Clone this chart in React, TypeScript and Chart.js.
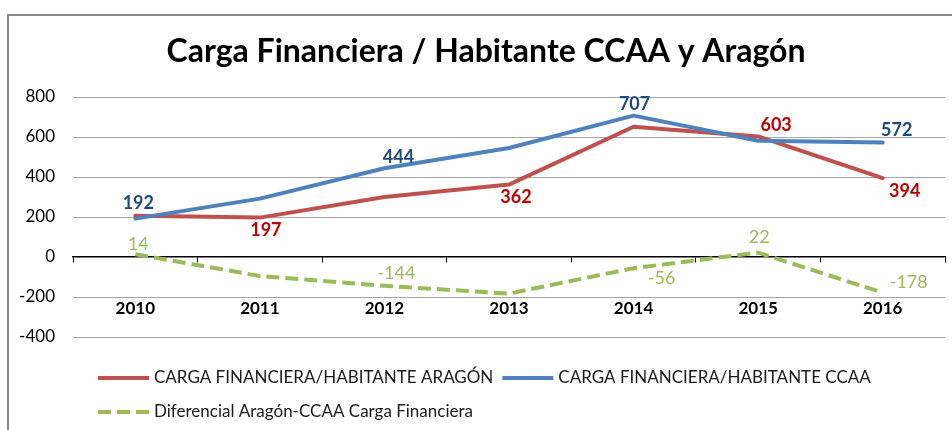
import React, { useEffect, useRef } from "react";
import { Chart, registerables } from "chart.js";

Chart.register(...registerables);

// ---- data ----
const years = ["2010", "2011", "2012", "2013", "2014", "2015", "2016"];
const aragon = [206, 197, 300, 362, 651, 603, 394];
const ccaa = [192, 292, 444, 545, 707, 581, 572];
const diferencial = [14, -95, -144, -183, -56, 22, -178];
const yTicks = [-400, -200, 0, 200, 400, 600, 800];

const titleText = "Carga Financiera / Habitante CCAA y Aragón";
const nameAragon = "CARGA FINANCIERA/HABITANTE ARAGÓN";
const nameCcaa = "CARGA FINANCIERA/HABITANTE CCAA";
const nameDif = "Diferencial Aragón-CCAA Carga Financiera";

// ---- label placement (offsets from the point, null = no label) ----
const offAragon: (number[] | null)[] = [null, [6, 13], null, [7, 13], null, [18, -11], [22, 13]];
const offCcaa: (number[] | null)[] = [[3, -15], null, [14, -11], null, [1, -11], null, [14, -12]];
const offDif: (number[] | null)[] = [[3, -10], null, [12, -13], null, [28, 10], [1, -15], [26, -10]];

const FONT = "Lato, 'Open Sans', 'DejaVu Sans', sans-serif";
const RED = "#C0504D";
const BLUE = "#4F81BD";
const GREEN = "#9BBB59";

const framePlugin = {
  id: "frame",
  beforeDraw(chart: any) {
    const c = chart.ctx;
    c.save();
    c.fillStyle = "#ffffff";
    c.fillRect(0, 0, chart.width, chart.height);
    c.strokeStyle = "#888888";
    c.lineWidth = 2;
    c.beginPath();
    c.moveTo(8, chart.height + 5);
    c.lineTo(8, 15);
    c.lineTo(chart.width + 5, 15);
    c.stroke();
    c.restore();
  },
};

const titlePlugin = {
  id: "customTitle",
  afterDraw(chart: any) {
    const c = chart.ctx;
    c.save();
    c.fillStyle = "#000000";
    c.font = `bold 32px ${FONT}`;
    c.textAlign = "center";
    c.textBaseline = "middle";
    c.fillText(titleText, 486, 52);
    c.restore();
  },
};

const labelsPlugin = {
  id: "pointLabels",
  afterDatasetsDraw(chart: any) {
    const c = chart.ctx;
    chart.data.datasets.forEach((ds: any, i: number) => {
      const meta = chart.getDatasetMeta(i);
      const offs = ds.labelOffsets as (number[] | null)[];
      c.save();
      c.fillStyle = ds.labelColor;
      c.font = `${ds.labelWeight} 18px ${FONT}`;
      c.textAlign = "center";
      c.textBaseline = "middle";
      meta.data.forEach((pt: any, j: number) => {
        const o = offs[j];
        if (!o) return;
        c.fillText(String(ds.data[j]), pt.x + o[0], pt.y + o[1]);
      });
      c.restore();
    });
  },
};

const legendPlugin = {
  id: "customLegend",
  afterDraw(chart: any) {
    const c = chart.ctx;
    const items = [0, 1, 2].map((i) => chart.data.datasets.find((d: any) => d.legendIndex === i));
    const rows = [[items[0], items[1]], [items[2]]];
    const rowY = [378, 412];
    c.save();
    c.font = `17px ${FONT}`;
    c.textBaseline = "middle";
    c.textAlign = "left";
    rows.forEach((row, r) => {
      let x = 98;
      const y = rowY[r];
      row.forEach((ds: any) => {
        c.strokeStyle = ds.borderColor;
        c.lineWidth = 4;
        c.lineCap = "butt";
        c.setLineDash(ds.borderDash && ds.borderDash.length ? [13, 6] : []);
        c.beginPath();
        c.moveTo(x, y);
        c.lineTo(x + 51, y);
        c.stroke();
        c.setLineDash([]);
        x += 56;
        c.fillStyle = "#1a1a1a";
        c.fillText(ds.label, x, y);
        x += c.measureText(ds.label).width + 9;
      });
    });
    c.restore();
  },
};

export default function App() {
  const ref = useRef<HTMLCanvasElement | null>(null);

  useEffect(() => {
    if (!ref.current) return;
    const chart = new Chart(ref.current, {
      type: "line",
      data: {
        labels: years,
        datasets: [
          {
            label: nameAragon,
            data: aragon,
            borderColor: RED,
            backgroundColor: RED,
            borderWidth: 4,
            pointRadius: 0,
            borderCapStyle: "round",
            borderJoinStyle: "round",
            order: 1,
            labelOffsets: offAragon,
            labelColor: "#C00000",
            labelWeight: "bold",
            legendIndex: 0,
          } as any,
          {
            label: nameCcaa,
            data: ccaa,
            borderColor: BLUE,
            backgroundColor: BLUE,
            borderWidth: 4,
            pointRadius: 0,
            borderCapStyle: "round",
            borderJoinStyle: "round",
            order: 0,
            labelOffsets: offCcaa,
            labelColor: "#1F497D",
            labelWeight: "bold",
            legendIndex: 1,
          } as any,
          {
            label: nameDif,
            data: diferencial,
            borderColor: GREEN,
            backgroundColor: GREEN,
            borderWidth: 4,
            borderDash: [13, 6],
            pointRadius: 0,
            borderCapStyle: "butt",
            borderJoinStyle: "round",
            order: 2,
            labelOffsets: offDif,
            labelColor: GREEN,
            labelWeight: "normal",
            legendIndex: 2,
          } as any,
        ],
      },
      options: {
        responsive: false,
        animation: false,
        devicePixelRatio: 1,
        layout: { padding: { top: 97, right: 7, bottom: 93, left: 0 } },
        plugins: {
          legend: { display: false },
          title: { display: false },
          tooltip: { enabled: false },
        },
        scales: {
          x: {
            type: "category",
            position: { y: 0 } as any,
            offset: true,
            grid: {
              offset: true,
              drawOnChartArea: false,
              drawTicks: true,
              tickLength: 5,
              color: "#000000",
              lineWidth: 1,
            },
            border: { display: true, color: "#000000", width: 1.5 },
            ticks: {
              padding: 36,
              color: "#000000",
              maxRotation: 0,
              font: { family: FONT, size: 17, weight: "bold" },
            },
          },
          y: {
            min: -400,
            max: 800,
            afterBuildTicks: (s: any) => {
              s.ticks = yTicks.map((v) => ({ value: v }));
            },
            afterFit: (s: any) => {
              s.width = 73;
            },
            grid: {
              color: (ctx: any) => (ctx.tick && ctx.tick.value === 0 ? "rgba(0,0,0,0)" : "#A6A6A6"),
              lineWidth: 1,
              drawTicks: false,
            },
            border: { display: false },
            ticks: {
              padding: 18,
              color: "#000000",
              font: { family: FONT, size: 17 },
            },
          },
        },
      },
      plugins: [framePlugin, labelsPlugin, titlePlugin, legendPlugin],
    });
    return () => chart.destroy();
  }, []);

  return (
    <div style={{ position: "absolute", left: 0, top: 0, width: 952, height: 430 }}>
      <canvas ref={ref} width={952} height={430} style={{ display: "block" }} />
    </div>
  );
}
